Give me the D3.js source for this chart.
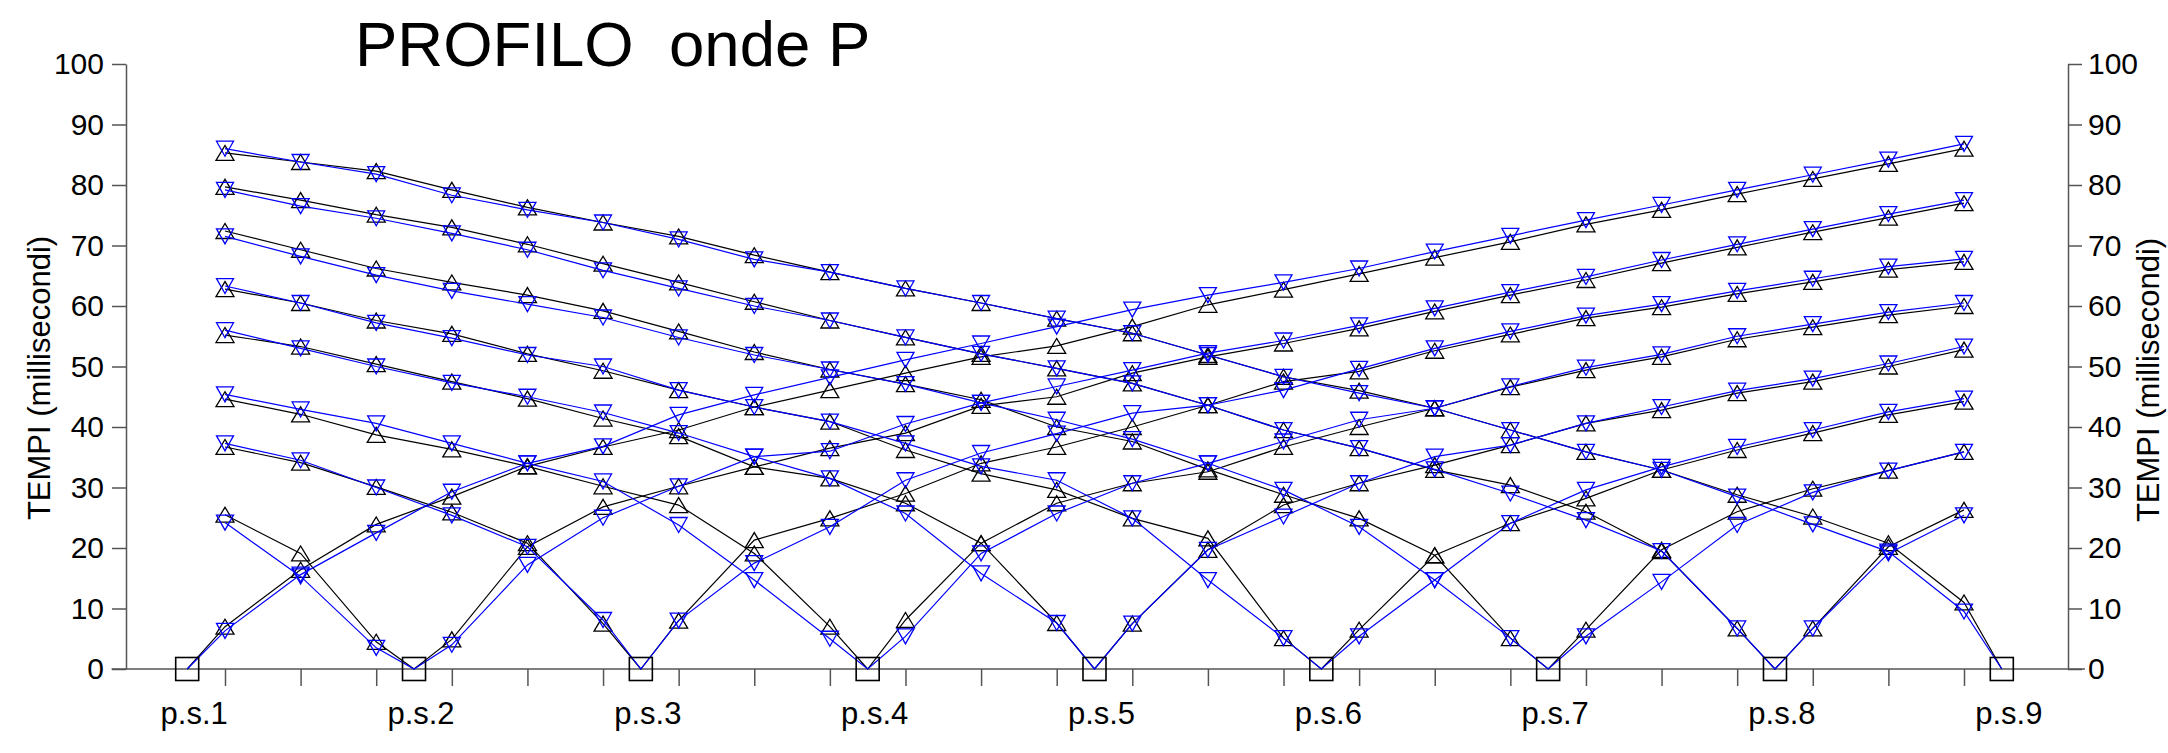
<!DOCTYPE html>
<html><head><meta charset="utf-8">
<script src="https://cdn.jsdelivr.net/npm/d3@7"></script>
<style>html,body{margin:0;padding:0;background:#fff;} svg{display:block;} text{font-family:"Liberation Sans",Arial,sans-serif;fill:#000;}</style>
</head><body>
<svg id="chart" width="2168" height="753"></svg>
<script>
// ---------- DATA ----------
const geophones = [0,1,2,3,4,5,6,7,8,9,10,11,12,13,14,15,16,17,18,19,20,21,22,23];
const shotPositions = [-0.5,2.5,5.5,8.5,11.5,14.5,17.5,20.5,23.5];
const shotLabels = ["p.s.1","p.s.2","p.s.3","p.s.4","p.s.5","p.s.6","p.s.7","p.s.8","p.s.9"];
const yTicks = [0,10,20,30,40,50,60,70,80,90,100];
const titleText = "PROFILO  onde P";
const yTitle = "TEMPI (millisecondi)";

// arrival times (ms) at each geophone, black = triangles up, blue = triangles down
const s1Black = [7.0,16.4,23.9,28.5,33.5,36.7,39.5,43.3,46.1,48.9,51.6,53.4,56.6,60.2,62.7,65.3,68.0,70.6,73.5,75.9,78.5,81.0,83.5,86.0];
const s1Blue  = [6.3,15.6,22.5,29.3,34.0,36.8,42.0,45.3,48.2,51.1,53.8,56.6,59.4,61.8,63.9,66.2,69.0,71.6,74.2,76.7,79.2,81.7,84.2,86.8];
const s2Black = [25.5,19.1,4.5,4.9,20.2,26.8,30.2,33.4,36.5,39.0,43.5,45.0,48.9,51.6,53.8,56.3,59.1,61.8,64.3,67.1,69.7,72.2,74.6,77.0];
const s2Blue  = [24.2,15.3,3.5,4.0,17.2,25.0,30.2,35.1,36.0,40.5,44.0,46.7,49.4,52.2,54.3,56.8,59.6,62.3,64.8,67.6,70.2,72.7,75.2,77.5];
const s3Black = [36.7,34.1,30.1,25.9,20.8,7.5,8.0,21.3,24.9,29.0,34.0,36.7,40.0,43.6,47.5,49.2,52.6,55.3,58.0,59.8,62.0,64.0,66.0,67.3];
const s3Blue  = [37.3,34.5,30.0,25.4,20.2,8.1,8.0,17.5,23.5,31.2,35.7,38.9,42.3,43.6,46.1,49.6,53.0,55.8,58.4,60.3,62.5,64.5,66.5,67.8];
const s4Black = [44.6,42.1,38.7,36.3,33.5,30.2,27.1,19.1,7.0,8.1,20.8,27.4,30.7,32.6,36.7,40.0,43.1,46.6,49.4,51.6,54.5,56.5,58.5,60.0];
const s4Blue  = [45.4,42.9,40.6,37.3,34.0,31.0,23.8,14.7,5.0,5.4,19.1,25.7,30.7,34.0,37.6,41.2,43.1,46.7,49.8,52.0,55.0,57.0,59.0,60.5];
const s5Black = [55.2,53.3,50.4,47.5,44.7,41.4,38.5,33.4,31.5,27.4,20.8,7.6,7.5,19.7,27.1,30.7,33.7,37.0,40.6,42.8,45.6,47.5,50.0,52.8];
const s5Blue  = [56.0,53.0,50.0,47.3,45.0,42.4,39.0,35.1,31.5,25.7,15.8,7.6,7.5,19.7,25.2,30.7,35.1,37.0,40.6,43.3,46.0,48.0,50.5,53.3];
const s6Black = [62.8,60.5,57.6,55.4,52.1,49.3,46.1,43.3,40.9,36.2,32.3,29.6,24.9,21.6,5.1,6.5,18.8,24.1,28.2,32.9,36.2,39.0,42.0,44.2];
const s6Blue  = [63.3,60.5,57.2,54.7,51.9,50.0,46.1,43.3,40.9,37.3,33.5,31.2,24.9,14.7,5.1,5.4,14.7,24.1,29.6,33.4,36.7,39.5,42.5,44.7];
const s7Black = [72.4,69.3,66.2,63.9,61.8,59.2,55.8,52.4,49.5,47.1,44.5,40.0,37.6,33.0,28.8,24.9,18.8,5.1,6.5,19.7,26.0,29.8,32.8,35.9];
const s7Blue  = [71.5,68.2,65.1,62.5,60.3,58.1,54.8,51.9,49.5,47.1,44.0,41.2,38.0,34.0,29.6,23.5,14.7,5.1,5.4,14.4,23.8,29.2,32.8,35.9];
const s8Black = [79.7,77.5,75.1,73.0,70.2,67.0,63.9,60.7,57.6,54.8,52.1,49.7,47.2,43.6,39.5,36.5,32.9,30.4,26.0,19.5,6.7,6.7,20.2,26.3];
const s8Blue  = [79.2,76.5,74.5,72.0,69.3,65.9,62.9,60.0,57.6,54.8,52.1,49.7,47.2,43.6,39.5,36.5,33.0,29.0,24.6,19.5,6.7,6.7,19.1,25.4];
const s9Black = [85.3,83.8,82.3,79.2,76.3,73.8,71.5,68.4,65.6,62.9,60.5,57.9,55.5,51.9,48.3,46.0,43.1,39.5,35.9,32.9,28.8,25.2,20.8,11.0];
const s9Blue  = [86.0,83.8,81.8,78.3,75.9,73.8,71.0,67.7,65.6,62.9,60.5,57.9,55.5,51.9,48.3,45.6,43.1,39.5,35.9,32.9,28.5,23.9,19.4,9.5];

const blackSeries = [s1Black,s2Black,s3Black,s4Black,s5Black,s6Black,s7Black,s8Black,s9Black];
const blueSeries  = [s1Blue,s2Blue,s3Blue,s4Blue,s5Blue,s6Blue,s7Blue,s8Blue,s9Blue];

// ---------- CHART ----------
const svg = d3.select("#chart");
const x = d3.scaleLinear().domain([0, 23]).range([225, 1964]);
const y = d3.scaleLinear().domain([0, 100]).range([669, 64]);
const axisLeftX = 126, axisRightX = 2068;
const axisColor = "#555";

// title
svg.append("text").attr("x", 355).attr("y", 66)
  .attr("font-size", 63.5).attr("xml:space", "preserve").style("white-space", "pre").text(titleText);

// y axes
const yl = svg.append("g").attr("transform", `translate(${axisLeftX},0)`)
  .call(d3.axisLeft(y).tickValues(yTicks).tickSize(14).tickSizeOuter(0).tickPadding(8));
const yr = svg.append("g").attr("transform", `translate(${axisRightX},0)`)
  .call(d3.axisRight(y).tickValues(yTicks).tickSize(14).tickSizeOuter(0).tickPadding(6));
[yl, yr].forEach(g => {
  g.selectAll("text").attr("font-size", 30).attr("font-family", '"Liberation Sans",Arial,sans-serif').attr("fill", "#000");
  g.selectAll("line").attr("stroke", axisColor).attr("stroke-width", 1.5);
  g.select(".domain").attr("stroke", axisColor).attr("stroke-width", 1.5);
});

// y titles
svg.append("text").attr("transform", "translate(50,378) rotate(-90)")
  .attr("text-anchor", "middle").attr("font-size", 31).text(yTitle);
svg.append("text").attr("transform", "translate(2159,380) rotate(-90)")
  .attr("text-anchor", "middle").attr("font-size", 31).text(yTitle);

// x axis
const xg = svg.append("g").attr("transform", `translate(0,${y(0)})`)
  .call(d3.axisBottom(x).tickValues(geophones).tickSize(17).tickSizeOuter(0).tickFormat(""));
xg.select(".domain").remove();
xg.selectAll("line").attr("stroke", axisColor).attr("stroke-width", 1.5);
svg.append("line").attr("x1", x(-1.5)).attr("x2", x(24.6)).attr("y1", y(0)).attr("y2", y(0))
  .attr("stroke", axisColor).attr("stroke-width", 1.5);

svg.append("g").selectAll("text").data(shotLabels).join("text")
  .attr("x", (d, i) => x(shotPositions[i]) + 7).attr("y", 724)
  .attr("text-anchor", "middle").attr("font-size", 31).text(d => d);

// series
const line = d3.line().x(d => x(d.pos)).y(d => y(d.t));
function pts(vals, shot) {
  const p = geophones.map((g, i) => ({pos: g, t: vals[i]}));
  p.push({pos: shot, t: 0});
  p.sort((a, b) => a.pos - b.pos);
  return p;
}
const upTri = "M-9,7.5L9,7.5L0,-7.5Z";
const downTri = "M-8.5,-7.5L8.5,-7.5L0,7.5Z";

function drawSeries(seriesList, color, shape) {
  const g = svg.append("g");
  seriesList.forEach((vals, si) => {
    g.append("path").attr("d", line(pts(vals, shotPositions[si])))
      .attr("fill", "none").attr("stroke", color).attr("stroke-width", 1.2);
  });
  seriesList.forEach((vals) => {
    g.append("g").selectAll("path").data(vals).join("path")
      .attr("transform", (d, i) => `translate(${x(geophones[i])},${y(d)})`)
      .attr("d", shape).attr("fill", "none").attr("stroke", color).attr("stroke-width", 1.3);
  });
}
drawSeries(blackSeries, "#000", upTri);
drawSeries(blueSeries, "#0000ff", downTri);

// shot points
svg.append("g").selectAll("rect").data(shotPositions).join("rect")
  .attr("x", d => x(d) - 11.5).attr("y", y(0) - 11.5).attr("width", 23).attr("height", 23)
  .attr("fill", "none").attr("stroke", "#000").attr("stroke-width", 1.6);
</script>
</body></html>
